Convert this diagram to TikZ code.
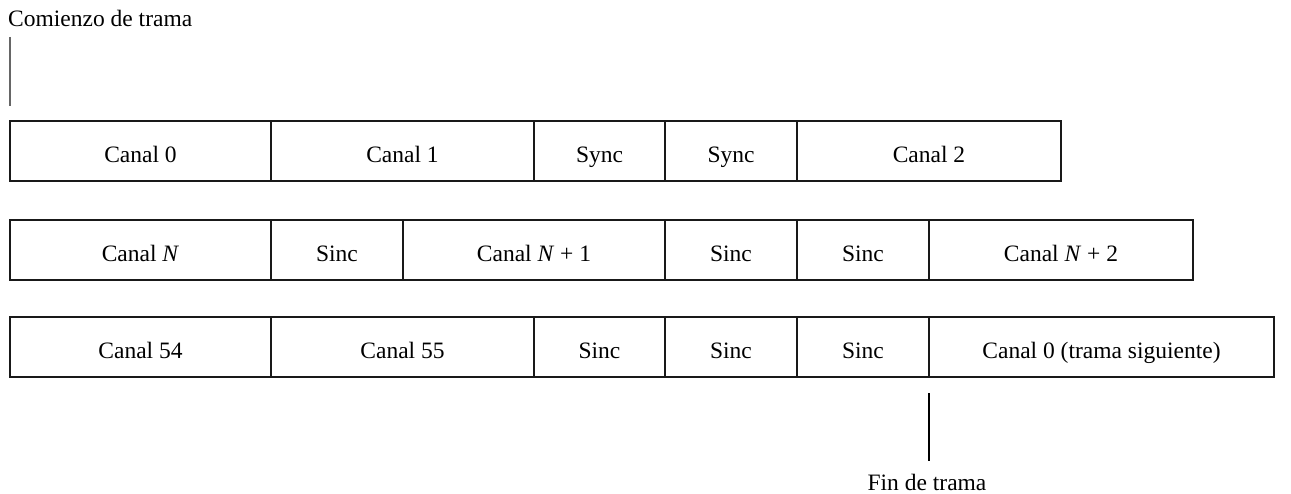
\documentclass[tikz,border=0pt]{standalone}
\usepackage{fontspec}
\setmainfont{Liberation Serif}
\begin{document}
\begin{tikzpicture}[x=1pt,y=-1pt,
  cellbox/.style={draw=black!90,line width=2pt,minimum height=60pt,inner sep=0pt,text height=24pt,text depth=0pt,anchor=center,font=\fontsize{23.5}{28}\selectfont},
  lbl/.style={inner sep=0pt,font=\fontsize{23.5}{28}\selectfont},
  marker/.style={line width=1.2pt}]
\useasboundingbox (0,0) rectangle (1291,494);
% row 1
\node[cellbox,minimum width=261pt] (a1) at (140.5,151) {Canal 0};
\node[cellbox,minimum width=263pt] (a2) at (402.5,151) {Canal 1};
\node[cellbox,minimum width=131pt] (a3) at (599.5,151) {Sync};
\node[cellbox,minimum width=132pt] (a4) at (731,151) {Sync};
\node[cellbox,minimum width=264pt] (a5) at (929,151) {Canal 2};
% row 2
\node[cellbox,minimum width=261pt] (b1) at (140.5,250) {Canal \textit{N}};
\node[cellbox,minimum width=132pt] (b2) at (337,250) {Sinc};
\node[cellbox,minimum width=262pt] (b3) at (534,250) {Canal \textit{N} + 1};
\node[cellbox,minimum width=132pt] (b4) at (731,250) {Sinc};
\node[cellbox,minimum width=132pt] (b5) at (863,250) {Sinc};
\node[cellbox,minimum width=264pt] (b6) at (1061,250) {Canal \textit{N} + 2};
% row 3
\node[cellbox,minimum width=261pt] (c1) at (140.5,347) {Canal 54};
\node[cellbox,minimum width=263pt] (c2) at (402.5,347) {Canal 55};
\node[cellbox,minimum width=131pt] (c3) at (599.5,347) {Sinc};
\node[cellbox,minimum width=132pt] (c4) at (731,347) {Sinc};
\node[cellbox,minimum width=132pt] (c5) at (863,347) {Sinc};
\node[cellbox,minimum width=345pt] (c6) at (1101.5,347) {Canal 0 (trama siguiente)};
% labels
\node[lbl,anchor=base west] (start) at (8,27) {Comienzo de trama};
\node[lbl,anchor=base] (end) at (927,490) {Fin de trama};
\coordinate (s1) at (10,37);
\coordinate (s2) at (10,106);
\coordinate (e1) at (929,393);
\coordinate (e2) at (929,461);
\draw[marker,draw=black!60] (s1) -- (s2);
\draw[marker] (e1) -- (e2);
\end{tikzpicture}
\end{document}
